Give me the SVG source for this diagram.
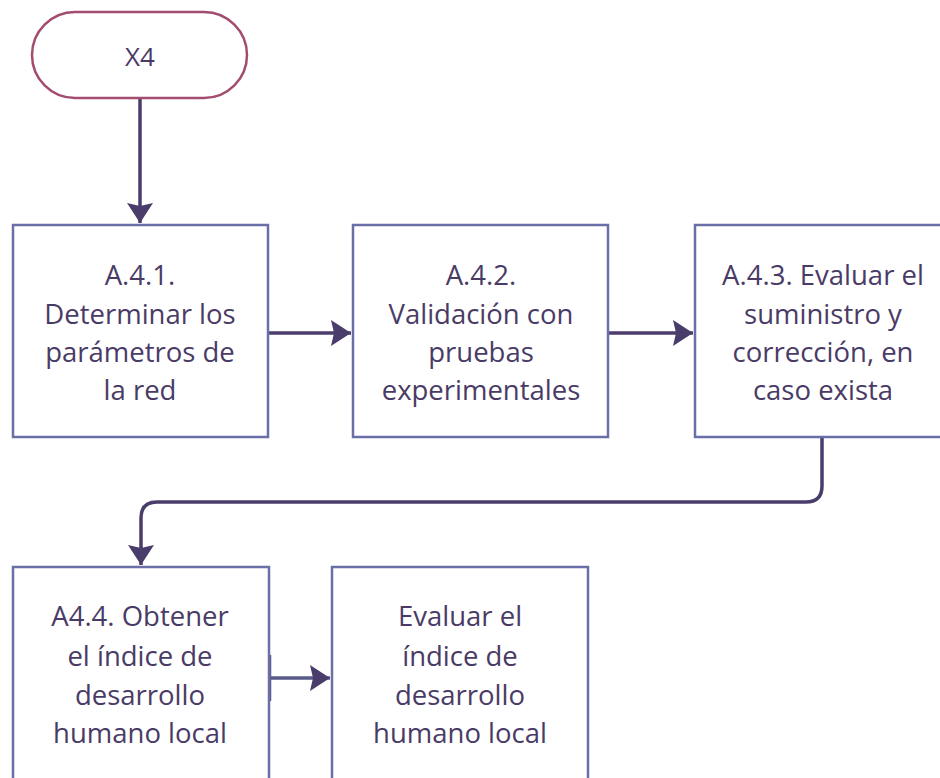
<svg xmlns="http://www.w3.org/2000/svg" width="940" height="778" viewBox="0 0 940 778">
<style>
.box{fill:#ffffff;stroke:#6b6fa8;stroke-width:2.5}
.term{fill:#ffffff;stroke:#a44b70;stroke-width:2.5}
.lbl{font-family:"Open Sans","Noto Sans",sans-serif;font-size:27.5px;fill:#4a3b66;text-anchor:middle}
.con{fill:none;stroke:#4b3d6b;stroke-width:3.5}
</style>
<defs>
<marker id="ah" markerUnits="userSpaceOnUse" markerWidth="24" markerHeight="28" refX="20" refY="14" orient="auto">
<polygon points="0,1 20,14 0,27 3,14" fill="#4b3d6b"/>
</marker>
</defs>
<rect width="940" height="778" fill="#ffffff"/>
<g id="connectors">
<path class="con" d="M140,98 V223" marker-end="url(#ah)"/>
<path class="con" d="M268,333 H351" marker-end="url(#ah)"/>
<path class="con" d="M608,333 H693" marker-end="url(#ah)"/>
<path class="con" d="M822,437 V486 Q822,502 806,502 H157 Q141,502 141,518 V565" marker-end="url(#ah)"/>
<path class="con" d="M270,678 H330" marker-end="url(#ah)" style="stroke:#5a5a8a"/>
<path d="M270,655 V701" stroke="#5a5a8a" stroke-width="2.5"/>
</g>
<g id="x4">
<rect class="term" x="32" y="12" width="215" height="86" rx="43" ry="43"/>
<text class="lbl" x="140" y="66" style="font-size:26px">X4</text>
</g>
<g id="a41">
<rect class="box" x="13" y="225" width="255" height="212"/>
<text class="lbl" x="140" y="285">A.4.1.</text>
<text class="lbl" x="140" y="324">Determinar los</text>
<text class="lbl" x="140" y="362">parámetros de</text>
<text class="lbl" x="140" y="400">la red</text>
</g>
<g id="a42">
<rect class="box" x="353" y="225" width="255" height="212"/>
<text class="lbl" x="481" y="285">A.4.2.</text>
<text class="lbl" x="481" y="324">Validación con</text>
<text class="lbl" x="481" y="362">pruebas</text>
<text class="lbl" x="481" y="400">experimentales</text>
</g>
<g id="a43">
<rect class="box" x="695" y="225" width="255" height="212"/>
<text class="lbl" x="823" y="285">A.4.3. Evaluar el</text>
<text class="lbl" x="823" y="324">suministro y</text>
<text class="lbl" x="823" y="362">corrección, en</text>
<text class="lbl" x="823" y="400">caso exista</text>
</g>
<g id="a44">
<rect class="box" x="13" y="567" width="256" height="220"/>
<text class="lbl" x="140" y="626">A4.4. Obtener</text>
<text class="lbl" x="140" y="666">el índice de</text>
<text class="lbl" x="140" y="705">desarrollo</text>
<text class="lbl" x="140" y="743">humano local</text>
</g>
<g id="evaluar">
<rect class="box" x="332" y="567" width="256" height="220"/>
<text class="lbl" x="460" y="626">Evaluar el</text>
<text class="lbl" x="460" y="666">índice de</text>
<text class="lbl" x="460" y="705">desarrollo</text>
<text class="lbl" x="460" y="743">humano local</text>
</g>
</svg>
